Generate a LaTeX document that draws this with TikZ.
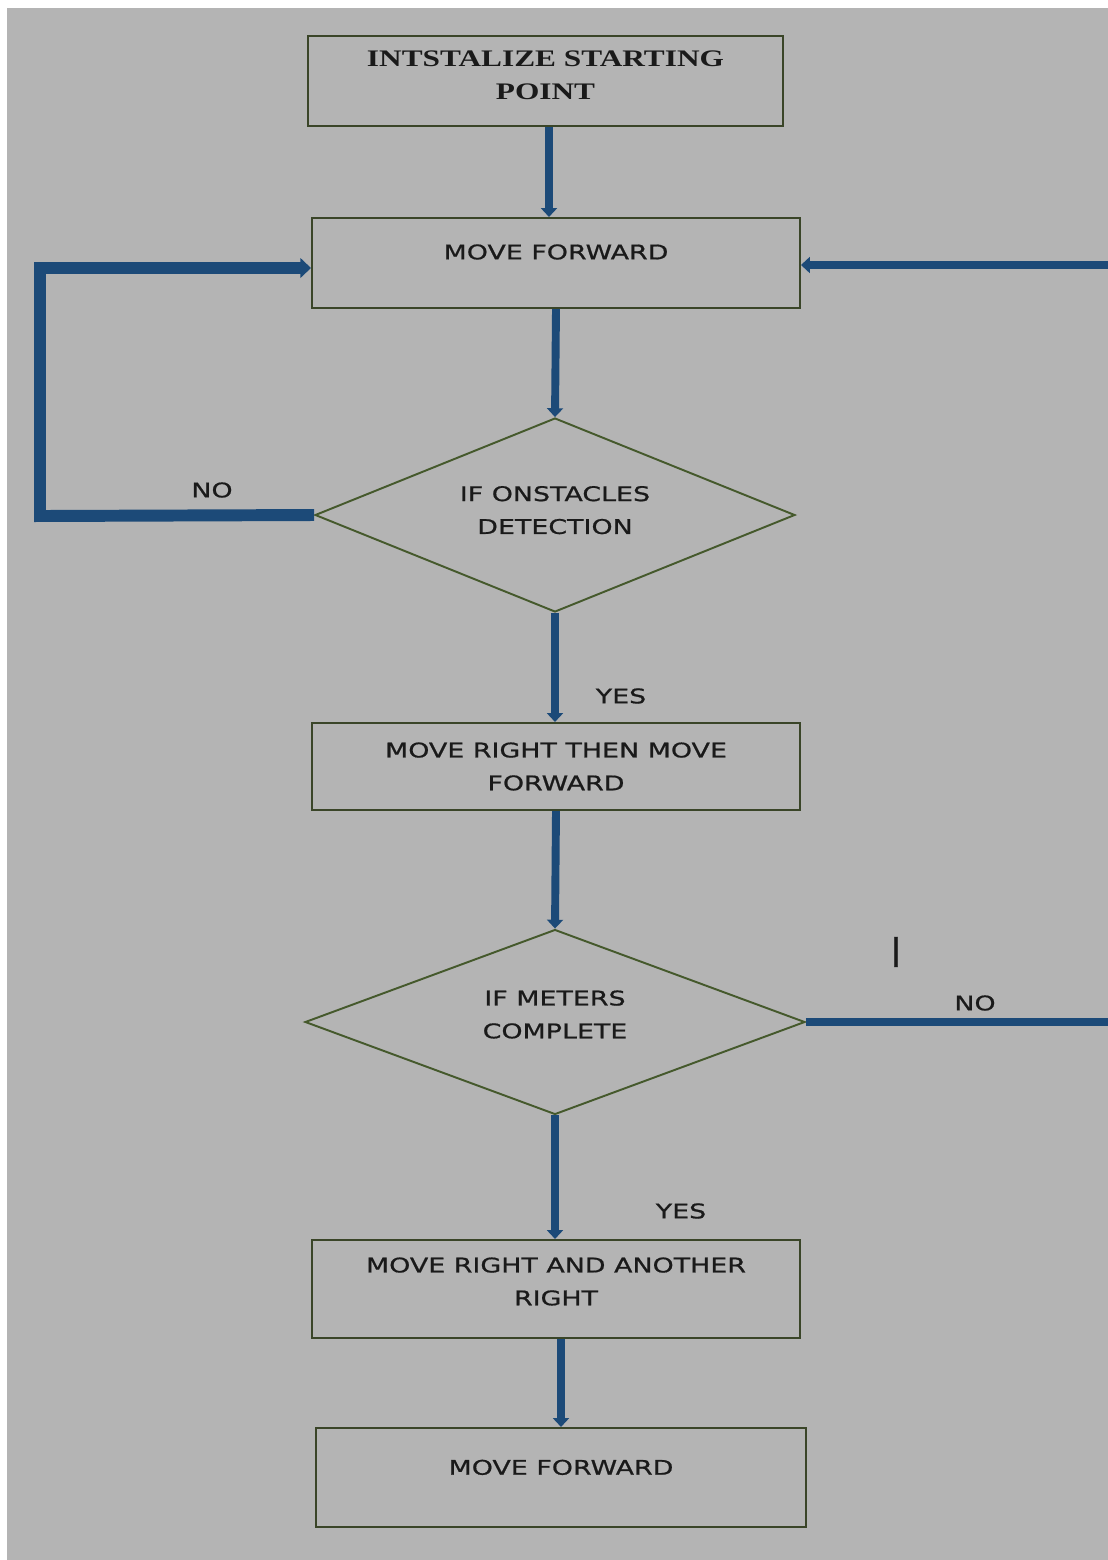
\documentclass[tikz,border=0pt]{standalone}
\usepackage{fontspec}
\setmainfont{Liberation Serif}[FakeStretch=1.32]
\setsansfont{DejaVu Sans}[FakeStretch=1.33, FakeBold=0.8]
\usepackage{tikz}
\usetikzlibrary{arrows.meta,positioning,shapes.geometric}

\definecolor{pagegray}{HTML}{B4B4B4}
\definecolor{flowblue}{HTML}{1C4A78}
\definecolor{boxline}{HTML}{3A4528}
\definecolor{diamline}{HTML}{45592C}
\definecolor{inktext}{HTML}{1A1A1A}

\tikzset{
  stepbox/.style={draw=boxline, line width=1.2pt, rectangle, inner sep=0pt,
    align=center, text=inktext, font=\sffamily\fontsize{11.5}{18.7}\selectfont},
  testbox/.style={draw=diamline, line width=1.1pt, diamond, shape aspect=2.5,
    inner sep=0pt, align=center, text=inktext, font=\sffamily\fontsize{11.5}{18.7}\selectfont},
  flowline/.style={draw=flowblue, line width=4.5pt, -{Triangle[length=5pt,width=9pt]}},
  loopline/.style={draw=flowblue, line width=6.8pt, -{Triangle[length=6pt,width=11pt]}},
  answer/.style={text=inktext, font=\sffamily\fontsize{11.5}{14}\selectfont}
}

\begin{document}
\begin{tikzpicture}[x=0.02cm, y=-0.02cm]
\useasboundingbox (0,0) rectangle (1108,1560);
\fill[white] (0,0) rectangle (1108,1560);
\fill[pagegray] (7,8) rectangle (1108,1560);
\clip (0,0) rectangle (1108,1560);

\node[stepbox, minimum width=9.5cm, minimum height=1.8cm,
  font=\rmfamily\bfseries\fontsize{13.5}{19}\selectfont] (start) at (545.5,81)
  {INTSTALIZE STARTING\\POINT\\[-12pt]};
\node[stepbox, minimum width=9.76cm, minimum height=1.8cm] (fwdA) at (556,263) {MOVE FORWARD\\[-6pt]};
\node[testbox, minimum width=9.6cm, minimum height=3.88cm] (obst) at (555,515)
  {IF ONSTACLES\\DETECTION\\[-13pt]};
\node[stepbox, minimum width=9.76cm, minimum height=1.74cm] (right) at (556,766.5)
  {MOVE RIGHT THEN MOVE\\FORWARD};
\node[testbox, minimum width=10cm, minimum height=3.7cm] (meters) at (555,1022)
  {IF METERS\\COMPLETE\\[-10pt]};
\node[stepbox, minimum width=9.76cm, minimum height=1.96cm] (turn) at (556,1289)
  {MOVE RIGHT AND ANOTHER\\RIGHT\\[-10pt]};
\node[stepbox, minimum width=9.8cm, minimum height=1.98cm] (fwdB) at (561,1477.5) {MOVE FORWARD\\[-7pt]};

\node[answer] (noA) at (212,490) {NO};
\node[answer] (yesA) at (621,696) {YES};
\node[answer] (yesB) at (681,1211) {YES};
\node[answer] (noB) at (975,1003) {NO};
\node[answer, font=\sffamily\fontsize{17}{17}\selectfont] (cursor) at (896,952) {|};

\coordinate (leftrail) at (40,516);
\coordinate (rightrail) at (1140,1022);

\draw[flowline] ([xshift=0.07cm]start.south) -- ([xshift=0.07cm]start.south |- fwdA.north);
\draw[flowline] (fwdA.south) -- (obst.north);
\draw[flowline] (obst.south) -- (obst.south |- right.north);
\draw[flowline] (right.south) -- (meters.north);
\draw[flowline] (meters.south) -- (meters.south |- turn.north);
\draw[flowline] (turn.south -| fwdB) -- (fwdB.north);

\draw[loopline] (obst.west) -- (leftrail) |- ([yshift=-0.1cm]fwdA.west);
\draw[flowline] (meters.east) -- (rightrail) |- ([yshift=-0.04cm]fwdA.east);
\end{tikzpicture}
\end{document}
